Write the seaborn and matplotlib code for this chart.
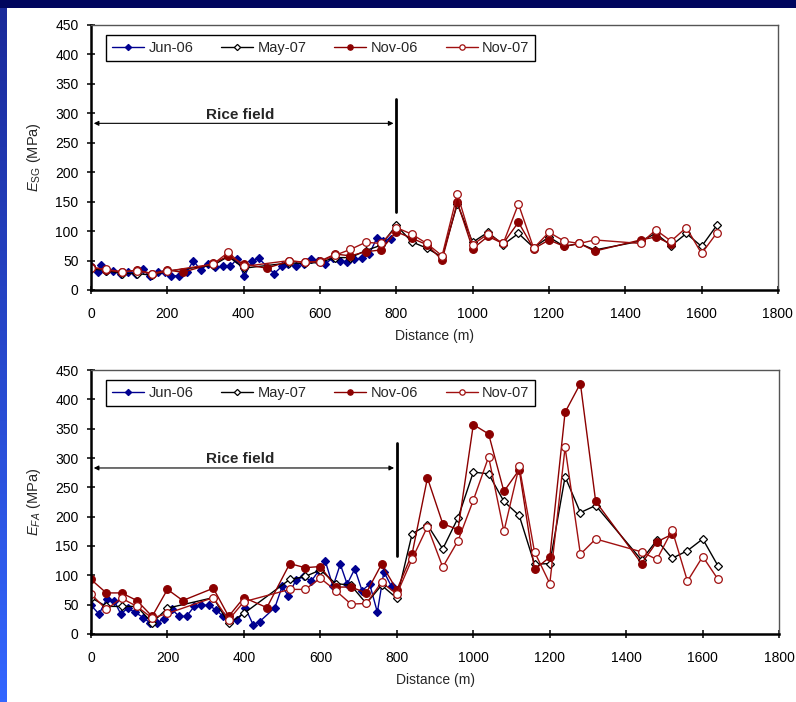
import numpy as np
import matplotlib
matplotlib.use('Agg')
import matplotlib.pyplot as plt
import seaborn as sns
from matplotlib.colors import LinearSegmentedColormap

# Sampling positions (m)
grid_a = [0, 40, 80, 120, 160, 200, 320, 360, 400, 520, 560, 600, 640, 680, 720, 760, 800,
          840, 880, 920, 960, 1000, 1040, 1080, 1120, 1160, 1200, 1240, 1280, 1320,
          1440, 1480, 1520, 1560, 1600, 1640]
grid_b = [0, 40, 80, 120, 160, 200, 240, 320, 360, 400, 460, 520, 560, 600, 640, 680, 720, 760, 800,
          840, 880, 920, 960, 1000, 1040, 1080, 1120, 1160, 1200, 1240, 1280, 1320,
          1440, 1480, 1520]

# E_SG panel
sg_jun06_x = [0, 18, 25, 39, 58, 78, 96, 117, 135, 155, 175, 194, 210, 231, 251, 268, 287, 307, 325, 345,
              365, 383, 402, 421, 439, 480, 500, 517, 537, 557, 576, 596, 613, 633, 653, 670, 689, 710, 729, 749,
              766, 786]
sg_jun06 = [40, 31, 43, 33, 33, 27, 30, 28, 35, 23, 30, 31, 24, 24, 30, 50, 34, 44, 39, 40,
            40, 53, 23, 49, 54, 28, 40, 44, 41, 44, 52, 50, 44, 54, 49, 48, 52, 54, 61, 88,
            84, 86]
sg_may07 = [36, 33, 28, 28, 25, 32, 42, 57, 37, 46, 45, 47, 55, 55, 67, 76, 110,
            82, 71, 56, 146, 81, 98, 77, 96, 72, 90, 74, 79, 68, 83, 96, 75, 96, 74, 110]
sg_nov06 = [39, 34, 30, 34, 28, 34, 30, 45, 58, 44, 37, 49, 47, 49, 61, 58, 65, 68, 99,
            88, 77, 51, 149, 70, 91, 79, 115, 70, 85, 74, 79, 66, 85, 90, 78]
sg_nov07 = [38, 35, 31, 33, 27, 32, 44, 64, 40, 50, 47, 48, 59, 69, 81, 79, 106,
            95, 79, 58, 163, 77, 95, 79, 146, 71, 98, 83, 79, 85, 79, 102, 83, 106, 62, 97]

# E_FA panel
fa_jun06_x = [0, 21, 41, 61, 78, 96, 115, 137, 154, 173, 191, 211, 231, 250, 270, 287, 308, 327, 346, 363,
              383, 404, 424, 441, 481, 500, 516, 536, 557, 576, 596, 613, 633, 652, 670, 690, 709, 729, 749, 766,
              786]
fa_jun06 = [49, 34, 59, 56, 34, 44, 37, 28, 19, 19, 26, 42, 30, 30, 47, 49, 49, 41, 30, 23,
            23, 44, 16, 21, 45, 81, 65, 92, 98, 90, 108, 124, 81, 119, 85, 111, 74, 85, 37, 106,
            81]
fa_may07 = [62, 47, 47, 47, 19, 44, 62, 18, 35, 93, 98, 109, 86, 83, 52, 83, 61,
            171, 186, 145, 198, 276, 273, 226, 202, 119, 120, 268, 207, 219, 126, 160, 129, 142, 162, 116]
fa_nov06 = [93, 70, 70, 57, 30, 76, 57, 78, 30, 62, 45, 120, 113, 115, 80, 80, 70, 119, 75,
            137, 266, 188, 178, 357, 341, 243, 280, 110, 131, 378, 427, 226, 120, 157, 170]
fa_nov07 = [68, 42, 61, 47, 27, 35, 62, 24, 55, 76, 76, 95, 74, 51, 52, 88, 68,
            128, 183, 114, 159, 228, 302, 175, 286, 140, 86, 318, 136, 162, 140, 127, 177, 90, 132, 93]

sns.set_theme(style='white')
plt.rcParams['font.family'] = ['Liberation Sans', 'DejaVu Sans']
plt.rcParams['mathtext.fontset'] = 'custom'
plt.rcParams['mathtext.rm'] = 'Liberation Sans'
plt.rcParams['mathtext.it'] = 'Liberation Sans:italic'

fig = plt.figure(figsize=(7.96, 7.02), dpi=100)
fig.patch.set_facecolor('white')

# slide border (blue band on top and left)
bg = fig.add_axes([0, 0, 1, 1], zorder=-5)
bg.axis('off')
bg.set_xlim(0, 796)
bg.set_ylim(702, 0)
bg.add_patch(plt.Rectangle((0, 0), 796, 8, color='#00065e', lw=0))
strip = fig.add_axes([0, 0, 7 / 796, 694 / 702], zorder=-4)
strip.axis('off')
grad = np.linspace(0, 1, 200).reshape(-1, 1)
cmap = LinearSegmentedColormap.from_list('slide', ['#1a2a9a', '#3366ff'])
strip.imshow(grad, aspect='auto', cmap=cmap, extent=[0, 1, 0, 1], origin='upper')

series = [
    ('Jun-06', dict(color='#000090', marker='D', markersize=4.5, markerfacecolor='#000090', markeredgecolor='#000090')),
    ('May-07', dict(color='black', marker='D', markersize=4.5, markerfacecolor='white', markeredgecolor='black')),
    ('Nov-06', dict(color='#8b0000', marker='o', markersize=5.5, markerfacecolor='#8b0000', markeredgecolor='#8b0000')),
    ('Nov-07', dict(color='#a01010', marker='o', markersize=5.5, markerfacecolor='white', markeredgecolor='#a01010')),
]

panels = [
    ([0.1143, 0.5869, 0.863, 0.3775], r'$E_{\mathrm{SG}}$ (MPa)',
     [(sg_jun06_x, sg_jun06), (grid_a, sg_may07), (grid_b, sg_nov06), (grid_a, sg_nov07)]),
    ([0.1143, 0.0969, 0.8646, 0.376], r'$E_{FA}$ (MPa)',
     [(fa_jun06_x, fa_jun06), (grid_a, fa_may07), (grid_b, fa_nov06), (grid_a, fa_nov07)]),
]

for rect, ylab, data in panels:
    ax = fig.add_axes(rect)
    for (name, style), (xs, ys) in zip(series, data):
        sns.lineplot(x=xs, y=ys, ax=ax, label=name, linewidth=1.0, markeredgewidth=0.9, **style)
    ax.set_xlim(0, 1800)
    ax.set_ylim(0, 450)
    ax.set_xticks(range(0, 1801, 200))
    ax.set_yticks(range(0, 451, 50))
    ax.set_xlabel('Distance (m)', fontsize=10, labelpad=6)
    ax.set_ylabel(ylab, fontsize=10.5, labelpad=9)
    ax.tick_params(direction='inout', length=6, width=1.1, labelsize=10, colors='black', pad=6,
                   left=True, bottom=True)
    ax.tick_params(axis='x', pad=9)
    for s in ['left', 'bottom']:
        ax.spines[s].set_color('black')
        ax.spines[s].set_linewidth(1.8)
    for s in ['top', 'right']:
        ax.spines[s].set_color('#555555')
        ax.spines[s].set_linewidth(1.0)

    # rice field annotation
    ax.annotate('', xy=(0, 283), xytext=(800, 283),
                arrowprops=dict(arrowstyle='<|-|>', color='black', lw=0.8, mutation_scale=7))
    ax.text(390, 291, 'Rice field', ha='center', va='baseline', fontsize=11, fontweight='bold')
    ax.plot([800, 800], [133, 325], color='black', lw=2)

    leg = ax.legend(loc='upper left', bbox_to_anchor=(0.022, 0.962), borderaxespad=0, ncol=4,
                    fontsize=10.5, frameon=True, fancybox=False, framealpha=1, edgecolor='black',
                    markerscale=0.7, handlelength=2.2, handletextpad=0.3, columnspacing=1.9,
                    borderpad=0.4)
    leg.get_frame().set_linewidth(1.0)

fig.savefig('out.png', dpi=100)
